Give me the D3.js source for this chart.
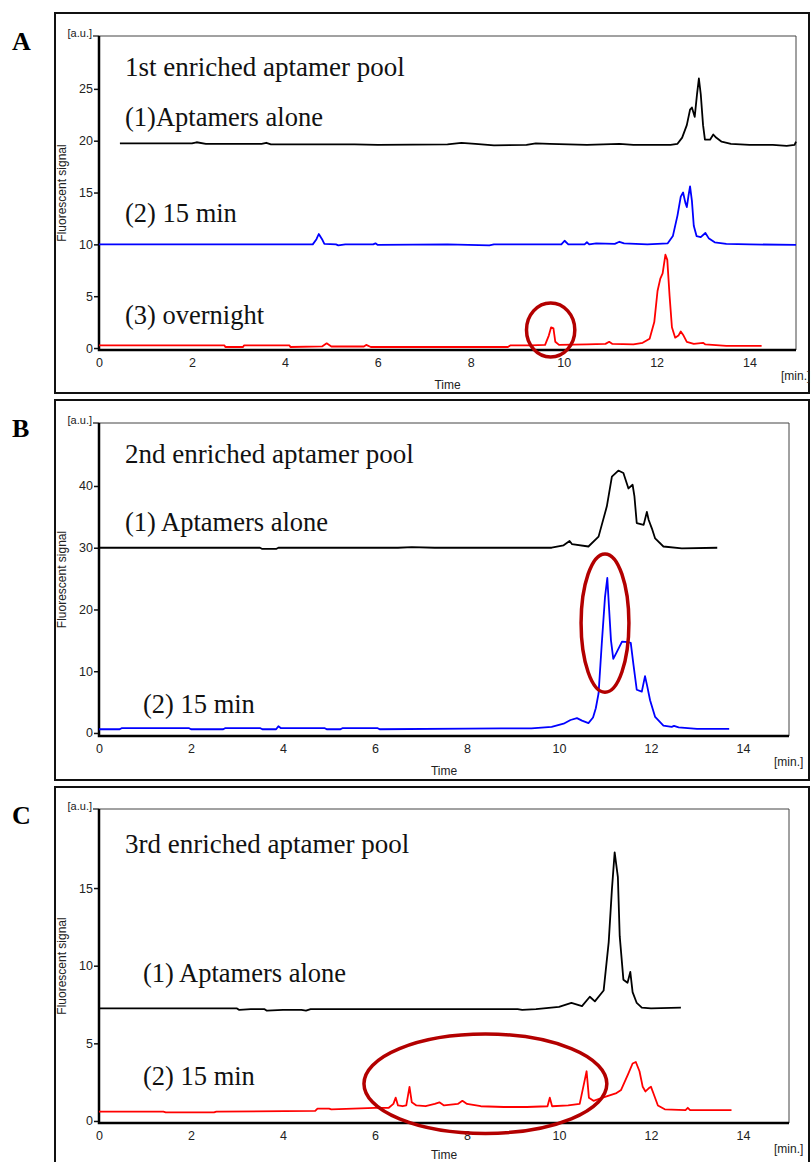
<!DOCTYPE html>
<html>
<head>
<meta charset="utf-8">
<script src="https://cdn.jsdelivr.net/npm/d3@7"></script>
<style>
  body { margin: 0; background: #fff; }
  svg { display: block; }
  .tick text { font-family: "Liberation Sans", Arial, sans-serif; font-size: 12.5px; fill: #222; }
</style>
</head>
<body>
<div id="chart"></div>
<script>
// x ticks shared by all panels
const timeTicks = [0, 2, 4, 6, 8, 10, 12, 14];

// Panel A: 1st enriched pool, [time, signal]
const aAlone = [[0.45,19.75],[2.0,19.75],[2.1,19.85],[2.3,19.7],[3.5,19.7],[3.6,19.8],[3.7,19.65],[5.5,19.65],[6.0,19.6],[7.5,19.65],
  [7.8,19.8],[8.1,19.7],[8.5,19.55],[9.2,19.6],[9.4,19.75],[9.7,19.7],[10.5,19.6],[11.2,19.7],[11.5,19.6],[12.3,19.6],
  [12.45,19.7],[12.55,20.3],[12.65,21.5],[12.72,23.0],[12.76,23.2],[12.82,22.3],[12.87,24.5],[12.91,26.0],[12.95,24.5],[13.0,21.5],
  [13.04,20.1],[13.15,20.1],[13.22,20.6],[13.28,20.3],[13.4,19.9],[13.6,19.7],[14.0,19.6],[14.5,19.6],[14.8,19.5],[14.97,19.6],[15.0,19.9]];
const a15min = [[0,10.0],[4.6,10.0],[4.68,10.5],[4.73,11.0],[4.8,10.5],[4.85,10.05],[5.1,10.0],[5.15,9.9],[5.3,10.0],[5.9,10.0],
  [5.95,10.1],[6.0,9.95],[7.5,10.0],[8.4,9.9],[8.5,10.0],[9.95,10.0],[10.02,10.35],[10.1,10.0],[10.45,10.0],[10.5,10.2],
  [10.55,10.0],[10.7,10.1],[11.1,10.05],[11.2,10.25],[11.3,10.1],[11.8,10.0],[12.24,10.1],[12.35,10.8],[12.45,12.8],[12.52,14.6],
  [12.57,15.0],[12.62,14.0],[12.65,13.6],[12.69,14.8],[12.72,15.6],[12.76,14.2],[12.8,11.8],[12.86,10.8],[12.95,10.7],[13.05,11.1],
  [13.12,10.6],[13.25,10.2],[13.5,10.05],[14.0,10.0],[15.0,9.95]];
const aOvernight = [[0,0.25],[2.7,0.25],[2.72,0.1],[3.1,0.1],[3.12,0.25],[4.1,0.25],[4.12,0.1],[4.8,0.15],[4.9,0.45],[5.0,0.15],
  [5.7,0.15],[5.75,0.3],[5.85,0.1],[8.8,0.1],[8.85,0.25],[9.3,0.25],[9.6,0.3],[9.68,1.2],[9.73,2.0],[9.78,1.9],[9.82,0.6],
  [9.9,0.3],[10.5,0.35],[10.9,0.4],[10.98,0.6],[11.05,0.4],[11.5,0.35],[11.7,0.5],[11.85,0.9],[11.95,2.5],[12.02,5.5],
  [12.08,6.7],[12.13,7.2],[12.19,9.0],[12.23,8.5],[12.28,5.0],[12.33,2.0],[12.4,1.0],[12.47,1.2],[12.52,1.6],[12.58,1.2],
  [12.65,0.6],[12.8,0.4],[13.0,0.5],[13.05,0.35],[13.5,0.2],[14.26,0.2]];

// Panel B: 2nd enriched pool
const bAlone = [[0,30],[3.5,30],[3.55,29.8],[3.85,29.8],[3.9,30],[6.5,30],[6.8,30.1],[7.3,30],[9.84,30],[10.1,30.4],
  [10.23,31.1],[10.28,30.6],[10.64,30.2],[10.86,31.8],[11.04,36.7],[11.15,41.5],[11.29,42.5],[11.4,42.1],[11.51,39.6],[11.6,40.2],
  [11.64,38.3],[11.69,34.0],[11.84,33.7],[11.91,35.8],[11.95,34.5],[12.02,33.1],[12.09,31.5],[12.27,30.2],[12.67,29.9],[13.44,30]];
const b15min = [[0,0.6],[0.45,0.6],[0.5,0.8],[1.95,0.8],[2.0,0.6],[2.7,0.6],[2.75,0.8],[3.5,0.8],[3.55,0.6],[3.85,0.6],
  [3.9,1.1],[3.95,0.8],[4.9,0.8],[4.95,0.6],[5.25,0.6],[5.3,0.8],[6.05,0.8],[6.1,0.6],[8.0,0.7],[8.75,0.75],[9.4,0.75],
  [9.84,1.0],[10.1,1.5],[10.25,2.1],[10.39,2.4],[10.5,2.0],[10.64,1.6],[10.74,2.5],[10.8,4.0],[10.86,6.4],[10.93,14.5],
  [11.0,22],[11.05,25.1],[11.09,20],[11.13,15],[11.18,12.0],[11.25,13.0],[11.37,14.8],[11.5,14.7],[11.56,14.6],[11.62,11.0],
  [11.69,7.0],[11.8,6.7],[11.87,9.2],[11.92,7.5],[11.98,5.3],[12.09,2.6],[12.27,1.2],[12.45,1.0],[12.5,1.15],[12.6,0.9],
  [13.0,0.65],[13.7,0.65]];

// Panel C: 3rd enriched pool
const cAlone = [[0,7.25],[3.0,7.25],[3.05,7.15],[3.3,7.2],[3.6,7.2],[3.65,7.1],[4.0,7.15],[4.4,7.15],[4.5,7.1],[4.6,7.2],
  [9.1,7.2],[9.2,7.15],[9.5,7.2],[10.0,7.35],[10.27,7.6],[10.5,7.4],[10.67,8.0],[10.78,7.7],[10.97,8.4],[11.08,11.5],
  [11.15,14.9],[11.21,17.3],[11.28,15.7],[11.32,11.9],[11.4,9.1],[11.49,8.9],[11.55,9.6],[11.6,8.3],[11.69,7.6],[11.8,7.3],
  [12.0,7.25],[12.65,7.3]];
const c15min = [[0,0.6],[1.4,0.6],[1.45,0.55],[2.5,0.55],[2.55,0.6],[4.7,0.65],[4.75,0.8],[5.0,0.8],[5.05,0.75],[6.0,0.85],
  [6.3,0.85],[6.4,1.1],[6.45,1.5],[6.5,1.0],[6.6,0.95],[6.68,1.0],[6.75,2.2],[6.8,1.2],[6.9,1.0],[7.1,0.95],[7.3,1.1],
  [7.4,1.2],[7.5,1.0],[7.8,1.1],[7.9,1.3],[8.0,1.1],[8.3,0.95],[8.8,0.9],[9.3,0.9],[9.75,0.95],[9.8,1.5],[9.85,0.95],
  [10.2,1.0],[10.45,1.1],[10.55,2.5],[10.6,3.2],[10.65,1.5],[10.75,1.3],[10.95,1.5],[11.15,1.7],[11.25,1.8],[11.35,2.0],
  [11.5,3.0],[11.6,3.7],[11.67,3.8],[11.75,3.2],[11.82,2.2],[11.88,1.9],[11.95,2.1],[12.0,2.2],[12.05,1.8],[12.15,1.0],
  [12.3,0.75],[12.75,0.7],[12.8,0.85],[12.85,0.7],[13.75,0.7]];

const w = 811;
const h = 1162;

const svg = d3.select('#chart').append('svg')
  .attr('width', w)
  .attr('height', h);

const serif = '"Liberation Serif", "Times New Roman", serif';
const sans = '"Liberation Sans", Arial, sans-serif';

const panels = [
  {
    letter: 'A', box: [55, 13, 809, 393], plot: [99, 36, 796, 350], yDomain: [-0.19, 30.1],
    yTicks: [0, 5, 10, 15, 20, 25],
    series: [{ data: aAlone, color: '#000' }, { data: a15min, color: '#0000ff' }, { data: aOvernight, color: '#ff0000' }],
    labels: [['1st enriched aptamer pool', 125, 76, 27], ['(1)Aptamers alone', 125, 126, 26.5], ['(2) 15 min', 125, 222, 26.5], ['(3) overnight', 125, 324, 26.5]],
    ellipse: { cx: 9.72, cy: 1.74, rx: 0.52, ry: 2.6 }
  },
  {
    letter: 'B', box: [55, 400, 809, 780], plot: [99, 423, 789, 736], yDomain: [-0.49, 50.2],
    yTicks: [0, 10, 20, 30, 40],
    series: [{ data: bAlone, color: '#000' }, { data: b15min, color: '#0000ff' }],
    labels: [['2nd enriched aptamer pool', 125, 463, 27], ['(1) Aptamers alone', 125, 531, 26.5], ['(2) 15 min', 143, 713, 26.5]],
    ellipse: { cx: 11.0, cy: 17.8, rx: 0.52, ry: 11.2 }
  },
  {
    letter: 'C', box: [55, 787, 809, 1180], plot: [99, 809, 789, 1123], yDomain: [-0.13, 20.09],
    yTicks: [0, 5, 10, 15],
    series: [{ data: cAlone, color: '#000' }, { data: c15min, color: '#ff0000' }],
    labels: [['3rd enriched aptamer pool', 125, 853, 27], ['(1) Aptamers alone', 143, 982, 26.5], ['(2) 15 min', 143, 1085, 26.5]],
    ellipse: { cx: 8.4, cy: 2.4, rx: 2.64, ry: 3.2 }
  }
];

panels.forEach(p => {
  const [bx0, by0, bx1, by1] = p.box;
  const [px0, py0, px1, py1] = p.plot;
  const g = svg.append('g');

  // outer frame
  g.append('rect')
    .attr('x', bx0).attr('y', by0)
    .attr('width', bx1 - bx0).attr('height', by1 - by0)
    .attr('fill', 'none').attr('stroke', '#111').attr('stroke-width', 2);

  g.append('text')
    .attr('x', 12).attr('y', by0 + 37)
    .attr('font-family', serif).attr('font-weight', 'bold').attr('font-size', 26)
    .text(p.letter);

  const x = d3.scaleLinear().domain([0, 15]).range([px0, px1]);
  const y = d3.scaleLinear().domain(p.yDomain).range([py1, py0]);

  // thin top/right frame of plot
  g.append('path')
    .attr('d', `M${px0},${py0}H${px1}V${py1}`)
    .attr('fill', 'none').attr('stroke', '#444').attr('stroke-width', 1);

  // axes
  const yAxis = d3.axisLeft(y).tickValues(p.yTicks).tickSize(5).tickPadding(1).tickSizeOuter(0);
  const ya = g.append('g').attr('transform', `translate(${px0},0)`).call(yAxis);
  ya.select('.domain').remove();
  ya.selectAll('.tick line').attr('stroke', '#111').attr('stroke-width', 1.5);

  const xAxis = d3.axisBottom(x).tickValues(timeTicks).tickSize(0).tickPadding(8);
  const xa = g.append('g').attr('transform', `translate(0,${py1})`).call(xAxis);
  xa.select('.domain').remove();

  // top tick next to [a.u.]
  g.append('line')
    .attr('x1', px0 - 6).attr('x2', px0).attr('y1', py0).attr('y2', py0)
    .attr('stroke', '#111').attr('stroke-width', 1.2);

  g.append('path')
    .attr('d', `M${px0},${py0}V${py1}H${px1}`)
    .attr('fill', 'none').attr('stroke', '#000').attr('stroke-width', 2.5);

  g.append('text')
    .attr('x', px0 - 7).attr('y', py0 + 1)
    .attr('text-anchor', 'end')
    .attr('font-family', sans).attr('font-size', 11).attr('fill', '#222')
    .text('[a.u.]');

  g.append('text')
    .attr('transform', `translate(${px0 - 33},${(py0 + py1) / 2}) rotate(-90)`)
    .attr('text-anchor', 'middle')
    .attr('font-family', sans).attr('font-size', 12).attr('fill', '#222')
    .text('Fluorescent signal');

  g.append('text')
    .attr('x', (px0 + px1) / 2).attr('y', Math.min(py1 + 39, h - 3))
    .attr('text-anchor', 'middle')
    .attr('font-family', sans).attr('font-size', 12).attr('fill', '#222')
    .text('Time');

  g.append('text')
    .attr('x', px1 - 15).attr('y', py1 + 30)
    .attr('font-family', sans).attr('font-size', 12).attr('fill', '#222')
    .text('[min.]');

  // traces
  const line = d3.line().x(d => x(d[0])).y(d => y(d[1]));
  p.series.forEach(s => {
    g.append('path')
      .datum(s.data)
      .attr('fill', 'none')
      .attr('stroke', s.color)
      .attr('stroke-width', 1.8)
      .attr('stroke-linejoin', 'round')
      .attr('d', line);
  });

  // annotation ellipse
  const e = p.ellipse;
  g.append('ellipse')
    .attr('cx', x(e.cx)).attr('cy', y(e.cy))
    .attr('rx', x(e.cx + e.rx) - x(e.cx))
    .attr('ry', y(e.cy - e.ry) - y(e.cy))
    .attr('fill', 'none').attr('stroke', '#b30000').attr('stroke-width', 3.5);

  p.labels.forEach(([t, lx, ly, fs]) => {
    g.append('text')
      .attr('x', lx).attr('y', ly)
      .attr('font-family', serif).attr('font-size', fs).attr('fill', '#111')
      .text(t);
  });
});
</script>
</body>
</html>
